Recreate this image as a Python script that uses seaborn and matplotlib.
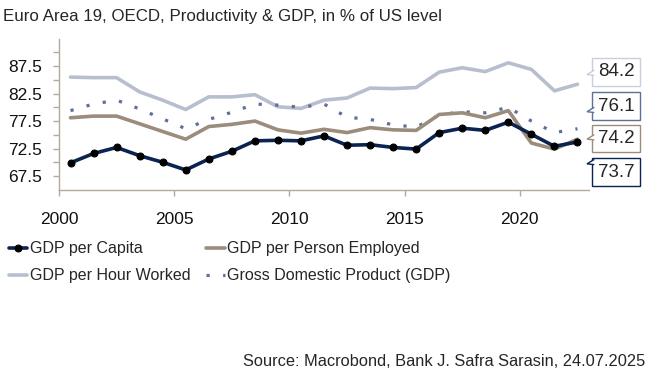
import numpy as np
import pandas as pd
import matplotlib
matplotlib.use("Agg")
import matplotlib.pyplot as plt
from matplotlib.patches import Polygon
import seaborn as sns

# --- data (in % of US level) ---
years = list(range(2000, 2023))
gdp_per_capita = [69.9, 71.6, 72.7, 71.2, 70.0, 68.6, 70.6, 72.0, 73.9, 74.0, 73.9, 74.8,
                  73.1, 73.2, 72.7, 72.4, 75.4, 76.2, 75.8, 77.3, 75.1, 72.9, 73.7]
gdp_per_person = [78.1, 78.4, 78.4, 77.0, 75.6, 74.2, 76.5, 76.9, 77.5, 75.9, 75.3, 76.0,
                  75.4, 76.3, 75.9, 75.8, 78.7, 79.0, 78.1, 79.4, 73.5, 72.4, 74.2]
gdp_per_hour = [85.5, 85.4, 85.4, 82.8, 81.3, 79.6, 81.9, 81.9, 82.3, 80.1, 79.8, 81.3,
                81.7, 83.5, 83.4, 83.6, 86.4, 87.2, 86.5, 88.1, 86.9, 83.0, 84.2]
gdp_total = [79.4, 80.6, 81.3, 79.7, 77.9, 76.1, 77.8, 79.1, 80.6, 80.4, 80.0, 80.6,
             78.2, 77.8, 76.8, 76.4, 78.6, 79.2, 79.0, 80.0, 77.5, 75.4, 76.1]

labels = ["GDP per Capita", "GDP per Person Employed",
          "GDP per Hour Worked", "Gross Domestic Product (GDP)"]
colors = ["#0b2352", "#9b8c7b", "#b7bfcf", "#5d7099"]

C_AXIS = "#b3aa9c"

sns.set_theme(style="white")
plt.rcParams["font.family"] = ["Liberation Sans", "DejaVu Sans"]

fig = plt.figure(figsize=(6.57, 3.75), dpi=100)
ax = fig.add_axes([0.0898, 0.494, 0.8067, 0.403])

x = np.array(years) + 0.5  # annual values plotted mid-year

sns.lineplot(x=x, y=gdp_per_hour, ax=ax, color=colors[2], linewidth=2.6, label=labels[2])
sns.lineplot(x=x, y=gdp_total, ax=ax, color=colors[3], linewidth=2.3, label=labels[3])
ax.lines[-1].set_linestyle((0, (1, 4.2)))
ax.lines[-1].set_dash_capstyle("butt")
sns.lineplot(x=x, y=gdp_per_person, ax=ax, color=colors[1], linewidth=2.6, label=labels[1])
sns.lineplot(x=x, y=gdp_per_capita, ax=ax, color=colors[0], linewidth=2.6, label=labels[0],
             marker="o", markersize=5, markerfacecolor="black", markeredgecolor="black")

ax.set_xlim(2000, 2023)
ax.set_ylim(65, 92.5)
ax.set_xticks([2000, 2005, 2010, 2015, 2020])
ax.set_yticks([67.5, 72.5, 77.5, 82.5, 87.5])
ax.set_yticks(np.arange(70, 92.5, 5), minor=True)
ax.tick_params(axis="both", which="major", labelsize=12.5, colors=C_AXIS, labelcolor="#111111",
               length=4, width=1, direction="out")
ax.tick_params(axis="y", which="minor", colors=C_AXIS, length=4, width=1, left=True)
ax.tick_params(axis="x", pad=12)
ax.tick_params(axis="y", pad=8)
ax.tick_params(bottom=True, left=True)
for side in ["top", "right"]:
    ax.spines[side].set_visible(False)
for side in ["left", "bottom"]:
    ax.spines[side].set_color(C_AXIS)
    ax.spines[side].set_linewidth(1)
ax.set_xlabel("")
ax.set_ylabel("")

# legend below the plot, two columns (filled column-wise, so reorder to read row-wise)
handles, lbls = ax.get_legend_handles_labels()
legend_order = [labels[0], labels[2], labels[1], labels[3]]
order = [lbls.index(l) for l in legend_order]
ax.get_legend().remove()
fig.legend([handles[i] for i in order], [lbls[i] for i in order], ncol=2,
           loc="upper left", bbox_to_anchor=(0.0137, 0.356), frameon=False,
           fontsize=11.5, handlelength=1.15, handletextpad=0.15, columnspacing=1.0,
           labelspacing=0.75, borderaxespad=0, borderpad=0)

# value boxes at the right, each with a little notch pointing left
last_vals = [gdp_per_hour[-1], gdp_total[-1], gdp_per_person[-1], gdp_per_capita[-1]]
box_edges = ["#c9cfdb", colors[3], colors[1], colors[0]]
box_y = [0.808, 0.717, 0.631, 0.541]
notch_y = [0.801, 0.702, 0.629, 0.563]
bx0, tip = 593 / 657, 587 / 657
for v, ec, yy, ny in zip(last_vals, box_edges, box_y, notch_y):
    fig.text(0.9376, yy, f"{v:.1f}", ha="center", va="center", fontsize=13.5,
             bbox=dict(boxstyle="square,pad=0.28", fc="white", ec=ec, lw=1))
    fig.patches.append(Polygon([[bx0 + 0.002, ny + 0.012], [tip, ny], [bx0 + 0.002, ny - 0.002]],
                               closed=False, transform=fig.transFigure, fc="white",
                               ec=ec, lw=1, zorder=5))

fig.text(0.004, 0.957, "Euro Area 19, OECD, Productivity & GDP, in % of US level",
         fontsize=12.2, ha="left", va="center")
fig.text(0.982, 0.035, "Source: Macrobond, Bank J. Safra Sarasin, 24.07.2025",
         fontsize=11.8, ha="right", va="center")

fig.savefig("out.png", dpi=100)
